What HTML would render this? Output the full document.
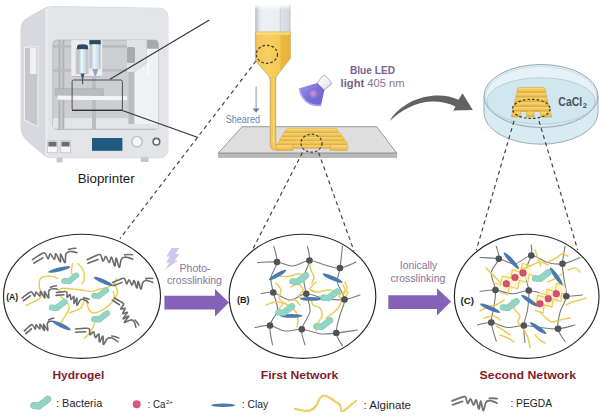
<!DOCTYPE html>
<html><head><meta charset="utf-8">
<style>
html,body{margin:0;padding:0;background:#fff;}
body{width:600px;height:420px;overflow:hidden;}
svg{display:block;}
text{font-family:"Liberation Sans",sans-serif;}
</style></head>
<body>
<svg width="600" height="420" viewBox="0 0 600 420">
<defs>
<path id="pegm" d="M0,0 C1.13,-0.43 4.6,-1.9 6.8,-2.6 C9,-3.3 11.73,-5.07 13.2,-4.2 C14.67,-3.33 14.72,2.27 15.6,2.6 C16.48,2.93 17.5,-2.47 18.5,-2.2 C19.5,-1.93 20.65,4 21.6,4.2 C22.55,4.4 23.33,-1.63 24.2,-1 C25.07,-0.37 26.03,7.8 26.8,8 C27.57,8.2 28.07,-0.07 28.8,0.2 C29.53,0.47 30.37,9.37 31.2,9.6 C32.03,9.83 32.83,3.25 33.8,1.6 C34.77,-0.05 35.8,-0.1 37,-0.3 C38.2,-0.5 39.67,-0.02 41,0.4 C42.33,0.82 44.33,1.9 45,2.2 M0.6,3.8 L10.6,0.4 M37.4,-2.6 C40,-2.9 42.5,-2.8 45,-2.3"/>
<g id="bact"><path d="M-6.3,2.5 L-1,3 L7.8,-3.8" fill="none" stroke="#7fc4b4" stroke-width="6.8" stroke-linecap="round" stroke-linejoin="round"/><path d="M-6.3,2.5 L-1,3 L7.8,-3.8" fill="none" stroke="#92d5c5" stroke-width="5.8" stroke-linecap="round" stroke-linejoin="round"/></g>
<linearGradient id="barrel" x1="0" y1="0" x2="1" y2="0">
<stop offset="0" stop-color="#b4bbc4"/><stop offset="0.05" stop-color="#c8ced6"/><stop offset="0.1" stop-color="#dde1e6"/><stop offset="0.2" stop-color="#eef1f4"/><stop offset="0.68" stop-color="#eceff2"/><stop offset="0.71" stop-color="#c9cfd7"/><stop offset="0.74" stop-color="#dce1e7"/><stop offset="0.95" stop-color="#d4dae1"/><stop offset="1" stop-color="#b4bcc5"/>
</linearGradient>
<linearGradient id="barrelv" x1="0" y1="0" x2="0" y2="1">
<stop offset="0" stop-color="#fff" stop-opacity="1"/><stop offset="0.05" stop-color="#fff" stop-opacity="0.9"/><stop offset="0.22" stop-color="#fff" stop-opacity="0"/>
</linearGradient>
<linearGradient id="liq" x1="0" y1="0" x2="1" y2="0">
<stop offset="0" stop-color="#d9b060"/><stop offset="0.06" stop-color="#f3c956"/><stop offset="0.35" stop-color="#f7cf62"/><stop offset="0.7" stop-color="#f4c855"/><stop offset="0.73" stop-color="#ecb940"/><stop offset="0.96" stop-color="#e9b43c"/><stop offset="1" stop-color="#d6ae62"/>
</linearGradient>
<linearGradient id="cone" x1="0" y1="0" x2="1" y2="1">
<stop offset="0" stop-color="#9c9ae8"/><stop offset="0.5" stop-color="#7470d8"/><stop offset="1" stop-color="#6a64d0"/>
</linearGradient>
<linearGradient id="cyl" x1="0" y1="0" x2="1" y2="1">
<stop offset="0" stop-color="#ffffff"/><stop offset="0.6" stop-color="#eeeef2"/><stop offset="1" stop-color="#c4c4cc"/>
</linearGradient>
<radialGradient id="lampc" cx="0.45" cy="0.5" r="0.6">
<stop offset="0" stop-color="#c4a0d8"/><stop offset="0.6" stop-color="#9574cc"/><stop offset="1" stop-color="#7a5cc0"/>
</radialGradient>
<linearGradient id="stp" x1="0" y1="0" x2="0" y2="1">
<stop offset="0" stop-color="#fadd88"/><stop offset="0.45" stop-color="#f5cc5e"/><stop offset="1" stop-color="#e2b142"/>
</linearGradient>
</defs>
<rect width="600" height="420" fill="#fff"/>
<g id="printer">
<path d="M21,30 Q21,21.5 27.5,18 L43,9.2 Q47,6.6 53,6.5 L159,8.3 Q168,8.5 168,17.5 L168,149 Q168,157.8 159,157.8 L52,157.8 Q47,157.8 44,155 L28,141.5 Q21,135.5 21,127 Z" fill="#d8d9de" stroke="#c9cace" stroke-width="0.7"/>
<path d="M45.5,8 Q48,6.6 53,6.5 L159,8.3 Q168,8.5 168,17.5 L168,149 Q168,157.8 159,157.8 L52,157.8 Q47.5,157.8 45.5,155.8 Z" fill="#e3e4e8"/>
<rect x="45.5" y="9" width="2.5" height="146.5" fill="#eaebee"/>
<path d="M24,46.8 L38.4,46 L38.4,127.5 L24,120.5 Z" fill="#eeeff1"/>
<path d="M25,48 L37.4,47.3 L37.4,126 L25,119.5 Z" fill="#c6c7cb"/>
<rect x="30" y="48" width="6.4" height="26" fill="#f1f1f3"/>
<rect x="52.8" y="40.1" width="105.5" height="89.4" rx="4" fill="#cdced2" stroke="#b4b5b9" stroke-width="0.8"/>
<rect x="53" y="118" width="105" height="10.5" fill="#e3e4e7"/>
<path d="M128.5,66 L134.5,66 L134.5,124 L128.5,124 Z" fill="#bbbcc0"/>
<path d="M134.5,72.5 L146.8,63 L146.8,48 L158.3,48 L158.3,124 L134.5,124 Z" fill="#eef2f5"/><rect x="147.6" y="48" width="1.2" height="28" fill="#fbfcfd"/>
<rect x="58.5" y="40.1" width="5.8" height="89" fill="#b0b1b5"/>
<rect x="60.2" y="40.1" width="2.4" height="89" fill="#c8c9cd"/>
<rect x="92" y="75" width="4" height="54" fill="#bcbdc1"/>
<rect x="53" y="45" width="77" height="2.8" fill="#bbbcc0"/>
<rect x="53" y="69" width="77" height="2.7" fill="#bbbcc0"/>
<rect x="71.4" y="40.1" width="30.8" height="37" fill="#eeeef0"/>
<rect x="75.7" y="47.9" width="12.9" height="26.4" fill="#c6c7cb"/>
<rect x="89.3" y="40.1" width="11.4" height="28.5" fill="#c6c7cb"/>
<rect x="71.4" y="76" width="30.8" height="1.2" fill="#b9babe"/>
<path d="M127,40.1 L146.3,40.1 L146.3,62 L134.5,72 L127,72 Z" fill="#e1e2e5"/>
<rect x="127" y="47" width="8" height="16" rx="1.5" fill="#a9aaae"/>
<path d="M147.2,40.1 L154.3,40.1 Q158.3,40.1 158.3,44.1 L158.3,48.8 L147.2,48.8 Z" fill="#a7a8ac"/>
<!-- syringes -->
<path d="M77,49.3 L77,46.5 Q77,44.3 82.5,44.3 Q88,44.3 88,46.5 L88,49.3 Z" fill="#2b4a68"/>
<rect x="79.8" y="49.3" width="5.6" height="24.3" fill="#d3e5ef"/>
<rect x="81.3" y="49.3" width="1.6" height="24.3" fill="#eef6fa"/>
<path d="M80.5,73.6 L84.7,73.6 L83.4,78 L83.1,84.3 L82.1,84.3 L81.8,78 Z" fill="#3c5a76"/>
<rect x="89.3" y="40.1" width="11.4" height="4.3" fill="#2b4a68"/>
<rect x="92" y="44.4" width="6.6" height="24.6" fill="#d3e5ef"/>
<rect x="93.6" y="44.4" width="1.8" height="24.6" fill="#eef6fa"/>
<path d="M92.3,69 L98.3,69 L96,75.7 L94.6,75.7 Z" fill="#90a8b8"/>
<!-- carriage & plate -->
<rect x="55.5" y="88.8" width="47.7" height="7.3" fill="#babbbf" stroke="#a4a5a9" stroke-width="0.6"/>
<path d="M57.3,95.6 L127,96.2 L127,100.3 L58,99.8 Z" fill="#f5f5f7"/>
</g>
<g>
<rect x="47.4" y="140.7" width="10.1" height="12.1" fill="#f6f6f7" stroke="#b5b6ba" stroke-width="0.6"/>
<rect x="48.4" y="141.7" width="8.1" height="4.8" fill="#6c6d71"/>
<rect x="60.5" y="140.7" width="10.1" height="12.1" fill="#f6f6f7" stroke="#b5b6ba" stroke-width="0.6"/>
<rect x="61.5" y="141.7" width="8.1" height="4.8" fill="#6c6d71"/>
<rect x="92" y="138" width="30.4" height="12.8" fill="#1f5a81"/>
<circle cx="137" cy="141.7" r="5.2" fill="#f6f6f8" stroke="#b4b5b9" stroke-width="1.2"/>
<circle cx="156.4" cy="141.7" r="3.3" fill="#fbfbfb" stroke="#6a6b6f" stroke-width="1.6"/>
<rect x="56.5" y="157.5" width="6.1" height="5" rx="1.5" fill="#c6c7cb"/>
<rect x="140.6" y="157" width="8.1" height="5" rx="1.5" fill="#c6c7cb"/>
</g>
<rect x="72.1" y="80" width="50.3" height="30.3" rx="1.5" fill="none" stroke="#4d4e52" stroke-width="1"/>
<line x1="72.1" y1="110.3" x2="122.4" y2="110.3" stroke="#222" stroke-width="1.1"/>
<line x1="110" y1="79.3" x2="209.3" y2="20" stroke="#333" stroke-width="1.1"/>
<line x1="122.4" y1="110.5" x2="198" y2="137.6" stroke="#333" stroke-width="1.1"/>
<text x="77.7" y="182.6" font-size="12.2" fill="#1a1a1a" textLength="57" lengthAdjust="spacingAndGlyphs">Bioprinter</text>
<path d="M218.3,153 L396.7,153 L396.7,157.4 L218.3,157.4 Z" fill="#b9b9b9" stroke="#a2a2a2" stroke-width="0.6"/>
<path d="M242,126.7 L376.7,126.7 L396.7,153 L218.3,153 Z" fill="#dedede" stroke="#8e8e8e" stroke-width="0.9" stroke-linejoin="round"/>
<rect x="255.2" y="4" width="35.3" height="28.2" fill="url(#barrel)"/>
<rect x="255" y="3.5" width="35.7" height="28.7" fill="url(#barrelv)"/>
<path d="M255.4,32 L290.3,32 L290.3,58.6 L276.5,76 Q275.6,77.2 275.6,79 L269.6,79 Q269.6,77.2 268.8,76 L255.4,60.7 Z" fill="url(#liq)" stroke="#d6b468" stroke-width="1"/>
<rect x="256" y="32.3" width="33.8" height="2.6" fill="#fadc80" opacity="0.85"/>
<path d="M273,77.5 L273,144 Q273,147.5 276.4,147.5 L284,147.5" fill="none" stroke="#d2b066" stroke-width="6.4" stroke-linejoin="round"/>
<path d="M273,77.5 L273,144 Q273,147.5 276.4,147.5 L284,147.5" fill="none" stroke="#f3ca58" stroke-width="4.2" stroke-linejoin="round"/>
<line x1="273.6" y1="78" x2="273.6" y2="143" stroke="#f8da80" stroke-width="1.2"/>
<g stroke="#d9aa44" stroke-width="0.6" fill="url(#stp)">
<path d="M276.5,144.5 L293,144.5 L293,150.5 L278,150.5 Q276.5,150.5 276.5,149 Z"/>
<path d="M330,144.5 L346,144.5 Q347.8,144.5 347.8,146.5 L347.8,148.8 Q347.8,150.5 346,150.5 L330,150.5 Z"/>
<path d="M293,144.5 L330,144.5 L330,148.3 L293,148.3 Z"/>
<path d="M280.2,140.6 L344,140.6 Q346.5,140.6 346.8,142.5 L347.3,144.6 L277.5,144.6 Q277.8,141.5 280.2,140.6 Z"/>
<path d="M282,136.5 L341.5,136.5 Q343.5,136.5 344,138.5 L344.5,140.7 L279.5,140.7 Q280,137.5 282,136.5 Z"/>
<path d="M284.5,132.5 L338.5,132.5 Q340.5,132.5 341,134.5 L341.7,136.6 L281.8,136.6 Q282.3,133.5 284.5,132.5 Z"/>
<path d="M288,128.3 L335,128.3 Q337,128.3 337.6,130.3 L338.6,132.6 L284.3,132.6 Q285,129.3 288,128.3 Z"/>
</g>
<ellipse cx="311.5" cy="143.2" rx="10.5" ry="9" fill="none" stroke="#3a3a3a" stroke-width="1.2" stroke-dasharray="2.6 2"/>
<ellipse cx="266.9" cy="54.3" rx="10.6" ry="9" fill="none" stroke="#3a3a3a" stroke-width="1.2" stroke-dasharray="2.6 2"/>
<line x1="256.1" y1="86.5" x2="256.1" y2="110" stroke="#7a8aa6" stroke-width="0.9"/>
<path d="M252.6,108.4 L259.6,108.4 L256.1,112.7 Z" fill="#6e7f9c"/>
<text x="225.7" y="122.6" font-size="10" fill="#6a86ad" textLength="34.3" lengthAdjust="spacingAndGlyphs">Sheared</text>
<g>
<path d="M317.1,83.1 L299.6,88.3 Q300,94 303,97.7 Q306,102 309.9,103.7 Q315,106 321,105.4 L324.4,90 Z" fill="url(#cone)"/>
<path d="M299.6,88.3 Q300,94 303,97.7 Q306,102 309.9,103.7 Q315,106 321,105.4" fill="none" stroke="#a8a6ec" stroke-width="1.6"/>
<path d="M317.1,83.1 L324.4,90" stroke="#5a52c0" stroke-width="1.4"/>
<circle cx="313.7" cy="93.6" r="5.4" fill="url(#lampc)"/>
<path d="M317.1,83.1 L322.7,75.9 Q324.5,74.8 326,76 L331.3,82.3 Q332,84 330.5,85 L324.4,90 Z" fill="url(#cyl)" stroke="#a0a0aa" stroke-width="0.8"/>
</g>
<text x="350" y="73.6" font-size="10.4" font-weight="bold" fill="#7a6290" textLength="45" lengthAdjust="spacingAndGlyphs">Blue LED</text>
<text x="340.6" y="87.3" font-size="11" fill="#857598" textLength="64" lengthAdjust="spacingAndGlyphs"><tspan font-weight="bold" fill="#73608a">light</tspan> 405 nm</text>
<path d="M389.5,121 C397,108 413,98 431,96 C442,94.8 451,96.5 458.5,99.8 L462.5,93.3 L472.8,110 L453.3,110.6 L455.5,106.6 C448,102.6 440,101.2 431.5,101.4 C416,102 401,110 389.5,121 Z" fill="#626262"/>
<g>
<path d="M484,96 L484,112.7 A57,31.5 0 0 0 598,112.7 L598,96 Z" fill="#d9ebf2" stroke="#90a7b3" stroke-width="0.9"/>
<ellipse cx="541" cy="96" rx="57" ry="31.5" fill="#e6f2f7" stroke="#90a7b3" stroke-width="1"/>
<ellipse cx="541" cy="96.5" rx="55.6" ry="30" fill="none" stroke="#b9cdd7" stroke-width="0.6"/>
<ellipse cx="541" cy="101" rx="54" ry="23.3" fill="#d0e7ef" stroke="#a9c1cc" stroke-width="0.7"/>
</g>
<g stroke="#d2a23c" stroke-width="0.6" fill="url(#stp)">
<path d="M512.7,111 L550.2,111 L551.6,117 L540.4,117 L540.4,111.5 L534,111.5 L534,117 L526.4,117 L526.4,111.5 L520.5,111.5 L520.5,117 L511.4,117 Z"/>
<path d="M515.0,106.3 L547.9,106.3 Q549.1,106.3 549.4,107.8 L550.2,111.1 L512.7,111.1 L513.5,107.8 Q513.8,106.3 515.0,106.3 Z"/>
<path d="M516.0,101.6 L546.8,101.6 Q548.0,101.6 548.3,103.1 L549.1,106.4 L513.8,106.4 L514.5,103.1 Q514.8,101.6 516.0,101.6 Z"/>
<path d="M517.1,96.9 L545.7,96.9 Q546.9,96.9 547.2,98.4 L548.0,101.7 L514.8,101.7 L515.6,98.4 Q515.9,96.9 517.1,96.9 Z"/>
<path d="M518.1,92.2 L544.6,92.2 Q545.8,92.2 546.1,93.7 L546.9,97.0 L515.9,97.0 L516.6,93.7 Q516.9,92.2 518.1,92.2 Z"/>
<path d="M519.2,87.5 L543.5,87.5 Q544.7,87.5 545.0,89.0 L545.8,92.3 L516.9,92.3 L517.7,89.0 Q518.0,87.5 519.2,87.5 Z"/>
</g>
<ellipse cx="531.3" cy="108.9" rx="18.8" ry="9.6" fill="none" stroke="#3a3a3a" stroke-width="1.2" stroke-dasharray="2.6 2"/>
<text x="558.3" y="105.8" font-size="12.2" font-weight="bold" fill="#4c525b" textLength="24" lengthAdjust="spacingAndGlyphs">CaCl</text>
<text x="582.8" y="108.4" font-size="7.6" font-weight="bold" fill="#4c525b">2</text>
<g stroke="#444" stroke-width="1.2" stroke-dasharray="4 3.4" fill="none">
<line x1="256" y1="61" x2="120" y2="238.6"/>
<line x1="302.4" y1="152.6" x2="251.8" y2="251"/>
<line x1="318.6" y1="152.6" x2="354" y2="251"/>
<line x1="514" y1="121" x2="476.3" y2="250.2"/>
<line x1="539" y1="121" x2="577.8" y2="250.2"/>
</g>
<g fill="#fff" stroke="#262626" stroke-width="1.15">
<ellipse cx="82" cy="296.3" rx="78.5" ry="62"/>
<ellipse cx="302.5" cy="296.3" rx="73.3" ry="62"/>
<ellipse cx="526.7" cy="296.3" rx="72.3" ry="62"/>
</g>
<path d="M164.4,295.7 L215,295.7 L215,289.1 L229,302.6 L215,316.5 L215,309.5 L164.4,309.5 Z" fill="#8462b8"/>
<path d="M388.3,295.2 L437,295.2 L437,288.3 L451.1,301.6 L437,315.6 L437,309 L388.3,309 Z" fill="#8462b8"/>
<g font-weight="bold" fill="#821d28">
<text x="52.5" y="379.2" font-size="11.6" textLength="51.7" lengthAdjust="spacingAndGlyphs">Hydrogel</text>
<text x="260.8" y="378.9" font-size="11.6" textLength="77.5" lengthAdjust="spacingAndGlyphs">First Network</text>
<text x="479.6" y="379.4" font-size="11.8" textLength="96.4" lengthAdjust="spacingAndGlyphs">Second Network</text>
</g>
<path d="M26.4,305.4 C27.48,304.85 30.57,303.35 32.9,302.1 C35.23,300.85 38.98,299.5 40.4,297.9 C41.82,296.3 41.58,294.3 41.4,292.5 C41.22,290.7 39.47,289.42 39.3,287.1 C39.13,284.78 39.33,280.38 40.4,278.6 C41.47,276.82 43.75,276.77 45.7,276.4 C47.65,276.03 50.13,276.03 52.1,276.4 C54.07,276.77 56.6,278.23 57.5,278.6" fill="none" stroke="#eecb52" stroke-width="1.45" stroke-linecap="round" stroke-linejoin="round" />
<path d="M72.5,263.6 C72.32,265.02 71.22,269.97 71.4,272.1 C71.58,274.23 73.23,275.68 73.6,276.4" fill="none" stroke="#eecb52" stroke-width="1.45" stroke-linecap="round" stroke-linejoin="round" />
<path d="M77.9,263.6 C78.78,264.67 82.13,267.5 83.2,270 C84.27,272.5 84.48,276.28 84.3,278.6 C84.12,280.92 82.47,283.02 82.1,283.9" fill="none" stroke="#eecb52" stroke-width="1.45" stroke-linecap="round" stroke-linejoin="round" />
<path d="M58.6,290.4 C59.32,290.03 60.05,288.38 62.9,288.2 C65.75,288.02 72.13,288.93 75.7,289.3 C79.27,289.67 81.8,290.05 84.3,290.4 C86.8,290.75 88.2,291.58 90.7,291.4 C93.2,291.22 96.43,290.02 99.3,289.3 C102.17,288.58 105.4,288.17 107.9,287.1 C110.4,286.03 112.88,284.32 114.3,282.9 C115.72,281.48 116.05,279.32 116.4,278.6" fill="none" stroke="#eecb52" stroke-width="1.45" stroke-linecap="round" stroke-linejoin="round" />
<path d="M60.7,296.8 C61.42,297.33 63.57,298.4 65,300 C66.43,301.6 68.95,304.25 69.3,306.4 C69.65,308.55 68.17,310.75 67.1,312.9 C66.03,315.05 63.97,317.52 62.9,319.3 C61.83,321.08 61.07,322.88 60.7,323.6" fill="none" stroke="#eecb52" stroke-width="1.45" stroke-linecap="round" stroke-linejoin="round" />
<path d="M69.3,312.9 C70.73,312.35 75.77,310.68 77.9,309.6 C80.03,308.52 81.03,308.35 82.1,306.4 C83.17,304.45 83.93,299.32 84.3,297.9" fill="none" stroke="#eecb52" stroke-width="1.45" stroke-linecap="round" stroke-linejoin="round" />
<path d="M86.4,297.9 C86.77,299.68 87.52,306.1 88.6,308.6 C89.68,311.1 90.77,312.55 92.9,312.9 C95.03,313.25 98.55,312.13 101.4,310.7 C104.25,309.27 107.85,306.43 110,304.3 C112.15,302.17 113.77,300.05 114.3,297.9 C114.83,295.75 113.38,292.48 113.2,291.4" fill="none" stroke="#eecb52" stroke-width="1.45" stroke-linecap="round" stroke-linejoin="round" />
<path d="M84.3,338.6 C85.02,337.88 87.17,336.08 88.6,334.3 C90.03,332.52 91.83,330.05 92.9,327.9 C93.97,325.75 94.65,322.48 95,321.4" fill="none" stroke="#eecb52" stroke-width="1.45" stroke-linecap="round" stroke-linejoin="round" />
<path d="M114.3,282.9 C114.83,284.32 117.5,288.55 117.5,291.4 C117.5,294.25 114.83,298.57 114.3,300" fill="none" stroke="#eecb52" stroke-width="1.45" stroke-linecap="round" stroke-linejoin="round" />
<g transform="translate(32.4,259.6) rotate(-11.71) scale(1,1)" fill="none" stroke="#6b6b6b" stroke-width="1.6" stroke-linecap="round" stroke-linejoin="round"><use href="#pegm"/></g>
<g transform="translate(87.2,259.6) rotate(-3.29) scale(1.01,1)" fill="none" stroke="#6b6b6b" stroke-width="1.6" stroke-linecap="round" stroke-linejoin="round"><use href="#pegm"/></g>
<g transform="translate(112.7,282.5) rotate(-2.87) scale(0.89,0.85)" fill="none" stroke="#6b6b6b" stroke-width="1.84" stroke-linecap="round" stroke-linejoin="round"><use href="#pegm"/></g>
<g transform="translate(22.1,298) rotate(-16.74) scale(0.81,0.8)" fill="none" stroke="#6b6b6b" stroke-width="1.99" stroke-linecap="round" stroke-linejoin="round"><use href="#pegm"/></g>
<g transform="translate(56.4,292.5) rotate(14.79) scale(0.74,0.75)" fill="none" stroke="#6b6b6b" stroke-width="2.15" stroke-linecap="round" stroke-linejoin="round"><use href="#pegm"/></g>
<g transform="translate(114.3,297.9) rotate(50.82) scale(0.81,0.8)" fill="none" stroke="#6b6b6b" stroke-width="1.99" stroke-linecap="round" stroke-linejoin="round"><use href="#pegm"/></g>
<g transform="translate(24.3,331) rotate(-20.14) scale(0.71,0.8)" fill="none" stroke="#6b6b6b" stroke-width="2.12" stroke-linecap="round" stroke-linejoin="round"><use href="#pegm"/></g>
<g transform="translate(75.7,328.9) rotate(14.51) scale(0.98,0.85)" fill="none" stroke="#6b6b6b" stroke-width="1.74" stroke-linecap="round" stroke-linejoin="round"><use href="#pegm"/></g>
<ellipse cx="0" cy="0" rx="11.46" ry="2.1" fill="#4a78b0" transform="translate(59.25,269.45) rotate(-13.37)"/>
<ellipse cx="0" cy="0" rx="10.56" ry="2.1" fill="#4a78b0" transform="translate(103.25,281.4) rotate(24.02)"/>
<ellipse cx="0" cy="0" rx="9.88" ry="2.1" fill="#4a78b0" transform="translate(61.8,325.7) rotate(25.79)"/>
<use href="#bact" transform="translate(69.5,278.8) rotate(0) scale(0.85)"/>
<use href="#bact" transform="translate(99.5,293.5) rotate(0) scale(0.85)"/>
<use href="#bact" transform="translate(57.5,305.3) rotate(0) scale(0.9)"/>
<use href="#bact" transform="translate(100,316.8) rotate(0) scale(0.9)"/>
<text x="6.2" y="299.9" font-size="8.8" font-weight="bold" fill="#1a1a1a" textLength="11.9" lengthAdjust="spacingAndGlyphs">(A)</text>
<path d="M257.5,262.5 C260.75,262.42 271.17,261.42 277,262 C282.83,262.58 287.08,266.25 292.5,266 C297.92,265.75 304.08,260.67 309.5,260.5 C314.92,260.33 319.92,263.75 325,265 C330.08,266.25 334.83,268.5 340,268 C345.17,267.5 353.33,263 356,262" fill="none" stroke="#76787b" stroke-width="1.1" stroke-linecap="round" stroke-linejoin="round" />
<path d="M261,293.8 C263.05,293.58 268.47,291.47 273.3,292.5 C278.13,293.53 284.5,299.78 290,300 C295.5,300.22 300.47,294 306.3,293.8 C312.13,293.6 318.63,297.85 325,298.8 C331.37,299.75 338.67,300.13 344.5,299.5 C350.33,298.87 357.42,295.75 360,295" fill="none" stroke="#76787b" stroke-width="1.1" stroke-linecap="round" stroke-linejoin="round" />
<path d="M255,327.5 C257.5,327.17 265,324.92 270,325.5 C275,326.08 279.7,330.37 285,331 C290.3,331.63 295.97,328.83 301.8,329.3 C307.63,329.77 314.25,333.18 320,333.8 C325.75,334.42 330.05,333.63 336.3,333 C342.55,332.37 353.97,330.5 357.5,330" fill="none" stroke="#76787b" stroke-width="1.1" stroke-linecap="round" stroke-linejoin="round" />
<path d="M273.8,246.3 C274.33,248.92 277.47,256.8 277,262 C276.53,267.2 271.62,272.42 271,277.5 C270.38,282.58 272.22,287.08 273.3,292.5 C274.38,297.92 278.05,304.5 277.5,310 C276.95,315.5 270.83,319.67 270,325.5 C269.17,331.33 272.08,341.75 272.5,345" fill="none" stroke="#76787b" stroke-width="1.1" stroke-linecap="round" stroke-linejoin="round" />
<path d="M307.5,246.3 C307.83,248.67 310.12,255.3 309.5,260.5 C308.88,265.7 304.33,271.95 303.8,277.5 C303.27,283.05 305.27,288.22 306.3,293.8 C307.33,299.38 310.75,305.08 310,311 C309.25,316.92 302.63,323.63 301.8,329.3 C300.97,334.97 304.47,342.38 305,345" fill="none" stroke="#76787b" stroke-width="1.1" stroke-linecap="round" stroke-linejoin="round" />
<path d="M342.5,246.3 C342.08,249.92 340.83,261.97 340,268 C339.17,274.03 336.75,277.25 337.5,282.5 C338.25,287.75 344.08,294.08 344.5,299.5 C344.92,304.92 341.37,309.42 340,315 C338.63,320.58 335.88,327.83 336.3,333 C336.72,338.17 341.47,343.83 342.5,346" fill="none" stroke="#76787b" stroke-width="1.1" stroke-linecap="round" stroke-linejoin="round" />
<path d="M280,276 C281.5,276.08 286.17,276.83 289,276.5 C291.83,276.17 294.33,274.25 297,274 C299.67,273.75 303.67,274.83 305,275" fill="none" stroke="#eecb52" stroke-width="1.45" stroke-linecap="round" stroke-linejoin="round" />
<path d="M309,262 C309.33,263.33 310.17,267.5 311,270 C311.83,272.5 313.83,274.83 314,277 C314.17,279.17 312.33,282 312,283" fill="none" stroke="#eecb52" stroke-width="1.45" stroke-linecap="round" stroke-linejoin="round" />
<path d="M276,283 C276.83,284.17 280.5,287.5 281,290 C281.5,292.5 278.67,295.83 279,298 C279.33,300.17 283.17,301 283,303 C282.83,305 278.83,308.83 278,310" fill="none" stroke="#eecb52" stroke-width="1.45" stroke-linecap="round" stroke-linejoin="round" />
<path d="M291,287 C292.17,286.5 296,283.5 298,284 C300,284.5 302.83,288 303,290 C303.17,292 298.83,294.33 299,296 C299.17,297.67 303.17,299.33 304,300" fill="none" stroke="#eecb52" stroke-width="1.45" stroke-linecap="round" stroke-linejoin="round" />
<path d="M316,282 C315,283.17 309.67,287.33 310,289 C310.33,290.67 315,291.83 318,292 C321,292.17 324.83,290 328,290 C331.17,290 334.5,291.33 337,292 C339.5,292.67 341.33,294.5 343,294 C344.67,293.5 346.67,291 347,289 C347.33,287 345.33,283.17 345,282" fill="none" stroke="#eecb52" stroke-width="1.45" stroke-linecap="round" stroke-linejoin="round" />
<path d="M311,298 C311.33,299.17 311.5,303.33 313,305 C314.5,306.67 318.5,306.17 320,308 C321.5,309.83 322.33,313.5 322,316 C321.67,318.5 319,320.5 318,323 C317,325.5 316.33,329.67 316,331" fill="none" stroke="#eecb52" stroke-width="1.45" stroke-linecap="round" stroke-linejoin="round" />
<path d="M266,305 C267.5,304.5 272,302.33 275,302 C278,301.67 281.5,302.17 284,303 C286.5,303.83 288,305.5 290,307 C292,308.5 294.67,309.83 296,312 C297.33,314.17 297.83,317.5 298,320 C298.17,322.5 297.17,325.83 297,327" fill="none" stroke="#eecb52" stroke-width="1.45" stroke-linecap="round" stroke-linejoin="round" />
<path d="M326,318 C327.17,317.17 330.83,314.83 333,313 C335.17,311.17 337.5,309.17 339,307 C340.5,304.83 340.83,301.83 342,300 C343.17,298.17 345,297.33 346,296 C347,294.67 347.67,292.67 348,292" fill="none" stroke="#eecb52" stroke-width="1.45" stroke-linecap="round" stroke-linejoin="round" />
<path d="M343,285 C343.33,286 345.67,289.17 345,291 C344.33,292.83 339,294.17 339,296 C339,297.83 344,301 345,302" fill="none" stroke="#eecb52" stroke-width="1.45" stroke-linecap="round" stroke-linejoin="round" />
<path d="M300,305 C299.17,304.17 296.83,300.67 295,300 C293.17,299.33 290,300.83 289,301" fill="none" stroke="#eecb52" stroke-width="1.45" stroke-linecap="round" stroke-linejoin="round" />
<circle cx="277" cy="262" r="3.3" fill="#505256"/>
<circle cx="309.5" cy="260.5" r="3.3" fill="#505256"/>
<circle cx="340" cy="268" r="3.3" fill="#505256"/>
<circle cx="273.3" cy="292.5" r="3.3" fill="#505256"/>
<circle cx="306.3" cy="293.8" r="3.3" fill="#505256"/>
<circle cx="344.5" cy="299.5" r="3.3" fill="#505256"/>
<circle cx="270" cy="325.5" r="3.3" fill="#505256"/>
<circle cx="301.8" cy="329.3" r="3.3" fill="#505256"/>
<circle cx="336.3" cy="333" r="3.3" fill="#505256"/>
<ellipse cx="0" cy="0" rx="10.08" ry="2.1" fill="#4a78b0" transform="translate(277.55,275) rotate(-29.74)"/>
<ellipse cx="0" cy="0" rx="10.91" ry="2.1" fill="#4a78b0" transform="translate(332.5,278.15) rotate(23.51)"/>
<ellipse cx="0" cy="0" rx="11.25" ry="1.9" fill="#4a78b0" transform="translate(311.25,298.8) rotate(0)"/>
<ellipse cx="0" cy="0" rx="11.25" ry="1.9" fill="#4a78b0" transform="translate(291.25,315.8) rotate(0)"/>
<use href="#bact" transform="translate(298.5,279) rotate(0) scale(0.95)"/>
<use href="#bact" transform="translate(329.5,295.3) rotate(0) scale(0.95)"/>
<use href="#bact" transform="translate(284.5,310) rotate(0) scale(0.95)"/>
<use href="#bact" transform="translate(322.5,324) rotate(0) scale(0.95)"/>
<text x="236.9" y="303.4" font-size="9.3" font-weight="bold" fill="#1a1a1a" textLength="12.6" lengthAdjust="spacingAndGlyphs">(B)</text>
<path d="M480,257.5 C483.13,257.72 492.97,257.75 498.8,258.8 C504.63,259.85 509.58,264.35 515,263.8 C520.42,263.25 525.88,255.72 531.3,255.5 C536.72,255.28 542.3,261.12 547.5,262.5 C552.7,263.88 557.08,264.63 562.5,263.8 C567.92,262.97 577.08,258.55 580,257.5" fill="none" stroke="#76787b" stroke-width="1.1" stroke-linecap="round" stroke-linejoin="round" />
<path d="M480,291.3 C482.58,291.08 490.08,289.58 495.5,290 C500.92,290.42 506.95,293.72 512.5,293.8 C518.05,293.88 522.97,290.3 528.8,290.5 C534.63,290.7 541.25,294.03 547.5,295 C553.75,295.97 560.47,296.3 566.3,296.3 C572.13,296.3 579.8,295.22 582.5,295" fill="none" stroke="#76787b" stroke-width="1.1" stroke-linecap="round" stroke-linejoin="round" />
<path d="M477.5,325 C479.8,324.58 486.3,322.08 491.3,322.5 C496.3,322.92 502.08,327 507.5,327.5 C512.92,328 518.38,325.5 523.8,325.5 C529.22,325.5 534.3,326.95 540,327.5 C545.7,328.05 552.17,329.22 558,328.8 C563.83,328.38 572.17,325.63 575,325" fill="none" stroke="#76787b" stroke-width="1.1" stroke-linecap="round" stroke-linejoin="round" />
<path d="M496.3,246.3 C496.72,248.38 499.63,254.43 498.8,258.8 C497.97,263.17 491.85,267.3 491.3,272.5 C490.75,277.7 495.08,284.17 495.5,290 C495.92,295.83 494.5,302.08 493.8,307.5 C493.1,312.92 490.88,316.87 491.3,322.5 C491.72,328.13 495.47,338.17 496.3,341.3" fill="none" stroke="#76787b" stroke-width="1.1" stroke-linecap="round" stroke-linejoin="round" />
<path d="M531.3,245 C531.3,246.75 532.35,250.92 531.3,255.5 C530.25,260.08 525.42,266.67 525,272.5 C524.58,278.33 528.38,284.25 528.8,290.5 C529.22,296.75 528.33,304.17 527.5,310 C526.67,315.83 524.22,320.08 523.8,325.5 C523.38,330.92 524.8,339.67 525,342.5" fill="none" stroke="#76787b" stroke-width="1.1" stroke-linecap="round" stroke-linejoin="round" />
<path d="M565,246.3 C564.58,249.22 562.7,258.6 562.5,263.8 C562.3,269 563.17,272.08 563.8,277.5 C564.43,282.92 566.93,290.47 566.3,296.3 C565.67,302.13 561.38,307.08 560,312.5 C558.62,317.92 557.17,324 558,328.8 C558.83,333.6 563.83,339.22 565,341.3" fill="none" stroke="#76787b" stroke-width="1.1" stroke-linecap="round" stroke-linejoin="round" />
<ellipse cx="515" cy="278" rx="19" ry="9" transform="rotate(-31 515 278)" fill="#fcf1c4" opacity="0.75"/>
<ellipse cx="549" cy="297" rx="19" ry="9" transform="rotate(-29 549 297)" fill="#fcf1c4" opacity="0.75"/>
<path d="M492.3,282.29 500.7,284.57 502.3,276.01 510.7,278.28 512.3,269.72 520.7,271.99 522.3,263.43 530.7,265.71" fill="none" stroke="#eecb52" stroke-width="1.2" stroke-linecap="round" stroke-linejoin="round" />
<path d="M499.35,292.26 507.65,294.74 509.35,286.26 517.65,288.74 519.35,280.26 527.65,282.74 529.35,274.26 537.65,276.74" fill="none" stroke="#eecb52" stroke-width="1.2" stroke-linecap="round" stroke-linejoin="round" />
<path d="M528.28,301.3 536.43,303.7 537.71,295.3 545.86,297.7 547.14,289.3 555.29,291.7 556.57,283.3 564.72,285.7" fill="none" stroke="#eecb52" stroke-width="1.2" stroke-linecap="round" stroke-linejoin="round" />
<path d="M535.27,310.31 543.16,312.83 544.12,304.6 552.02,307.12 552.98,298.88 560.88,301.4 561.84,293.17 569.73,295.69" fill="none" stroke="#eecb52" stroke-width="1.2" stroke-linecap="round" stroke-linejoin="round" />
<path d="M480,311 C481.33,310.33 485.33,308 488,307 C490.67,306 493.33,306.17 496,305 C498.67,303.83 502.67,300.83 504,300" fill="none" stroke="#eecb52" stroke-width="1.5" stroke-linecap="round" stroke-linejoin="round" />
<path d="M484,318 C485.67,317.67 491.33,315.67 494,316 C496.67,316.33 499,319.33 500,320" fill="none" stroke="#eecb52" stroke-width="1.5" stroke-linecap="round" stroke-linejoin="round" />
<path d="M512,300 C512.5,301.67 513.67,307.33 515,310 C516.33,312.67 519.5,314 520,316 C520.5,318 517.33,319.67 518,322 C518.67,324.33 522.33,327.33 524,330 C525.67,332.67 527,335 528,338 C529,341 529.67,346.33 530,348" fill="none" stroke="#eecb52" stroke-width="1.5" stroke-linecap="round" stroke-linejoin="round" />
<path d="M540,312 C541,313 544,316.33 546,318 C548,319.67 549.67,321.67 552,322 C554.33,322.33 557,320.67 560,320 C563,319.33 568.33,318.33 570,318" fill="none" stroke="#eecb52" stroke-width="1.5" stroke-linecap="round" stroke-linejoin="round" />
<path d="M520,270 C521.67,269.33 526.67,267.33 530,266 C533.33,264.67 537,262.17 540,262 C543,261.83 546.67,264.5 548,265" fill="none" stroke="#eecb52" stroke-width="1.5" stroke-linecap="round" stroke-linejoin="round" />
<path d="M535,250 C535.5,251.33 537,255.33 538,258 C539,260.67 540.5,264.67 541,266" fill="none" stroke="#eecb52" stroke-width="1.5" stroke-linecap="round" stroke-linejoin="round" />
<path d="M548,262 C549.33,261.33 553.67,259.33 556,258 C558.33,256.67 560,254.33 562,254 C564,253.67 567,255.67 568,256" fill="none" stroke="#eecb52" stroke-width="1.5" stroke-linecap="round" stroke-linejoin="round" />
<path d="M568,270 C569.17,269.67 573,267.67 575,268 C577,268.33 579.17,271.33 580,272" fill="none" stroke="#eecb52" stroke-width="1.5" stroke-linecap="round" stroke-linejoin="round" />
<path d="M566,305 C567,304.5 569.67,302.83 572,302 C574.33,301.17 577.67,300.67 580,300 C582.33,299.33 585,298.33 586,298" fill="none" stroke="#eecb52" stroke-width="1.5" stroke-linecap="round" stroke-linejoin="round" />
<path d="M496,326 C497.17,326.67 500.67,328.5 503,330 C505.33,331.5 508.83,334.17 510,335" fill="none" stroke="#eecb52" stroke-width="1.5" stroke-linecap="round" stroke-linejoin="round" />
<path d="M486,268 C487.17,269.17 490.67,272.67 493,275 C495.33,277.33 498.83,280.83 500,282" fill="none" stroke="#eecb52" stroke-width="1.5" stroke-linecap="round" stroke-linejoin="round" />
<path d="M548,282 C549.33,281.33 553.67,279.33 556,278 C558.33,276.67 561,274.67 562,274" fill="none" stroke="#eecb52" stroke-width="1.5" stroke-linecap="round" stroke-linejoin="round" />
<path d="M500,335 C501.33,335.5 505.67,336.83 508,338 C510.33,339.17 513,341.33 514,342" fill="none" stroke="#eecb52" stroke-width="1.5" stroke-linecap="round" stroke-linejoin="round" />
<path d="M535,335 C535.83,335.83 538.33,338.67 540,340 C541.67,341.33 544.17,342.5 545,343" fill="none" stroke="#eecb52" stroke-width="1.5" stroke-linecap="round" stroke-linejoin="round" />
<circle cx="498.8" cy="258.8" r="3.3" fill="#505256"/>
<circle cx="531.3" cy="255.5" r="3.3" fill="#505256"/>
<circle cx="562.5" cy="263.8" r="3.3" fill="#505256"/>
<circle cx="495.5" cy="290" r="3.3" fill="#505256"/>
<circle cx="528.8" cy="290.5" r="3.3" fill="#505256"/>
<circle cx="566.3" cy="296.3" r="3.3" fill="#505256"/>
<circle cx="491.3" cy="322.5" r="3.3" fill="#505256"/>
<circle cx="523.8" cy="325.5" r="3.3" fill="#505256"/>
<circle cx="558" cy="328.8" r="3.3" fill="#505256"/>
<circle cx="506.3" cy="283.8" r="3.3" fill="#d8506e" stroke="#b83a58" stroke-width="0.6"/>
<circle cx="515" cy="277.5" r="3.3" fill="#d8506e" stroke="#b83a58" stroke-width="0.6"/>
<circle cx="523" cy="273" r="3.3" fill="#d8506e" stroke="#b83a58" stroke-width="0.6"/>
<circle cx="540" cy="303.8" r="3.3" fill="#d8506e" stroke="#b83a58" stroke-width="0.6"/>
<circle cx="548.3" cy="298.8" r="3.3" fill="#d8506e" stroke="#b83a58" stroke-width="0.6"/>
<circle cx="556.3" cy="293.8" r="3.3" fill="#d8506e" stroke="#b83a58" stroke-width="0.6"/>
<ellipse cx="0" cy="0" rx="11.08" ry="2.1" fill="#4a78b0" transform="translate(511.3,260.65) rotate(47.38)"/>
<ellipse cx="0" cy="0" rx="10.75" ry="2.1" fill="#4a78b0" transform="translate(556.25,276.25) rotate(54.46)"/>
<ellipse cx="0" cy="0" rx="9.88" ry="2.1" fill="#4a78b0" transform="translate(529.4,300.65) rotate(34.9)"/>
<ellipse cx="0" cy="0" rx="10.91" ry="2.1" fill="#4a78b0" transform="translate(490,308.15) rotate(23.51)"/>
<ellipse cx="0" cy="0" rx="9.92" ry="2.1" fill="#4a78b0" transform="translate(538.15,328.15) rotate(34.73)"/>
<use href="#bact" transform="translate(541,276) rotate(0) scale(0.95)"/>
<use href="#bact" transform="translate(509,305) rotate(0) scale(0.95)"/>
<text x="460.6" y="303.6" font-size="9.3" font-weight="bold" fill="#1a1a1a" textLength="13.4" lengthAdjust="spacingAndGlyphs">(C)</text>
<use href="#bact" transform="translate(40,403) rotate(0) scale(1)"/>
<text x="56" y="406.8" font-size="10.6" fill="#1e1e1e" textLength="46.3" lengthAdjust="spacingAndGlyphs">: Bacteria</text>
<circle cx="136.7" cy="404.2" r="4" fill="#d45a78"/>
<text x="147.5" y="408.3" font-size="10.6" fill="#1e1e1e" textLength="18" lengthAdjust="spacingAndGlyphs">: Ca</text>
<text x="166" y="403.6" font-size="6" fill="#2a2a2a">2+</text>
<ellipse cx="0" cy="0" rx="11.85" ry="1.7" fill="#4a78b0" transform="translate(223.15,405.3) rotate(0)"/>
<text x="241.7" y="408.3" font-size="10.6" fill="#1e1e1e" textLength="26.6" lengthAdjust="spacingAndGlyphs">: Clay</text>
<path d="M295,409 C296.33,409.25 300.5,410.25 303,410.5 C305.5,410.75 307.83,411.25 310,410.5 C312.17,409.75 314.33,408.08 316,406 C317.67,403.92 318.67,399.75 320,398 C321.33,396.25 322.33,395.5 324,395.5 C325.67,395.5 328,396.92 330,398 C332,399.08 334.33,400.83 336,402 C337.67,403.17 339.08,403.5 340,405 C340.92,406.5 340.5,410.33 341.5,411 C342.5,411.67 344.25,410.17 346,409 C347.75,407.83 350.33,405.33 352,404 C353.67,402.67 355.33,401.5 356,401" fill="none" stroke="#e3bf45" stroke-width="2.0" stroke-linecap="round" stroke-linejoin="round" />
<path d="M295,409 C296.33,409.25 300.5,410.25 303,410.5 C305.5,410.75 307.83,411.25 310,410.5 C312.17,409.75 314.33,408.08 316,406 C317.67,403.92 318.67,399.75 320,398 C321.33,396.25 322.33,395.5 324,395.5 C325.67,395.5 328,396.92 330,398 C332,399.08 334.33,400.83 336,402 C337.67,403.17 339.08,403.5 340,405 C340.92,406.5 340.5,410.33 341.5,411 C342.5,411.67 344.25,410.17 346,409 C347.75,407.83 350.33,405.33 352,404 C353.67,402.67 355.33,401.5 356,401" fill="none" stroke="#f6dc7a" stroke-width="1.0" stroke-linecap="round" stroke-linejoin="round" />
<text x="363.6" y="408.6" font-size="10.6" fill="#1e1e1e" textLength="47.4" lengthAdjust="spacingAndGlyphs">: Alginate</text>
<g transform="translate(452,401) rotate(0) scale(1,1)" fill="none" stroke="#707070" stroke-width="1.8" stroke-linecap="round" stroke-linejoin="round"><use href="#pegm"/></g>
<text x="510.4" y="406.6" font-size="10.6" fill="#1e1e1e" textLength="41.6" lengthAdjust="spacingAndGlyphs">: PEGDA</text>
<path d="M171.5,248 L179.3,248 L175.3,254 L179.5,254 L174.5,260.5 L178,260.5 L165,270 L169.5,262.8 L166,262.8 L169.8,256.6 L166.3,256.6 Z" fill="#d0c8ef"/>
<text x="179.6" y="271.5" font-size="11.2" fill="#857596" textLength="31" lengthAdjust="spacingAndGlyphs">Photo-</text>
<text x="167.1" y="284" font-size="11.2" fill="#857596" textLength="54.8" lengthAdjust="spacingAndGlyphs">crosslinking</text>
<text x="399.8" y="268.7" font-size="10.8" fill="#857596" textLength="37.4" lengthAdjust="spacingAndGlyphs">Ionically</text>
<text x="390.5" y="282.1" font-size="10.8" fill="#857596" textLength="54.8" lengthAdjust="spacingAndGlyphs">crosslinking</text>
</svg>
</body></html>
